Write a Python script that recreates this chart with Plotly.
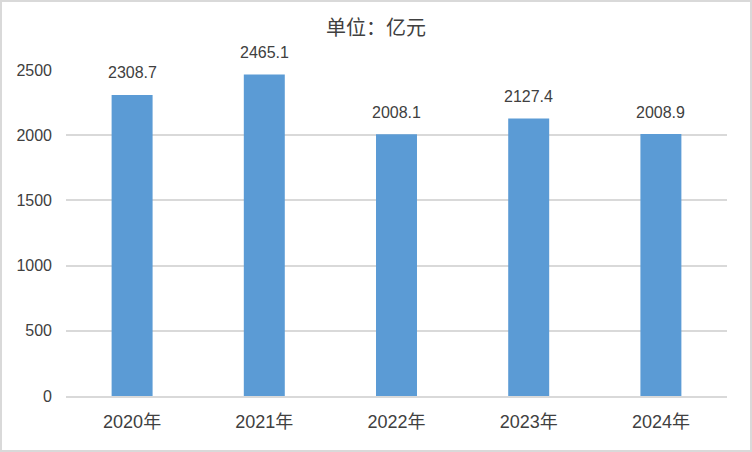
import plotly.graph_objects as go

categories = ["2020年", "2021年", "2022年", "2023年", "2024年"]
values = [2308.7, 2465.1, 2008.1, 2127.4, 2008.9]
tick_vals = [0, 500, 1000, 1500, 2000, 2500]

W, H = 752, 452
ml, mr, mt, mb = 66, 25, 70, 56
pw, ph = W - ml - mr, H - mt - mb
FONT = "Liberation Sans, Noto Sans CJK SC, sans-serif"
TXT = "#404040"

fig = go.Figure(go.Bar(
    x=categories, y=values,
    marker=dict(color="#5B9BD5", line=dict(width=0)),
    width=0.31,
    hoverinfo="x+y",
))

for c, v in zip(categories, values):
    fig.add_annotation(x=c, y=v, text=f"{v:.1f}", showarrow=False,
                       yanchor="middle", yshift=22,
                       font=dict(family=FONT, size=16, color=TXT))

fig.update_layout(
    width=W, height=H,
    margin=dict(l=ml, r=mr, t=mt, b=mb),
    paper_bgcolor="white", plot_bgcolor="white",
    font=dict(family=FONT, color=TXT, size=16),
    title=dict(text="单位：亿元", x=0.5, xanchor="center", y=1 - 28 / H, yanchor="middle",
               font=dict(family="Noto Sans CJK SC, sans-serif", size=20, color=TXT)),
    showlegend=False,
)
fig.update_xaxes(showgrid=False, showline=True, linecolor="#d9d9d9", linewidth=2,
                 ticks="", ticklabelstandoff=8, tickfont=dict(family=FONT, size=18, color=TXT))
fig.update_yaxes(range=[0, 2500], tickvals=tick_vals, showgrid=True, gridcolor="#d9d9d9",
                 gridwidth=1.5, zeroline=False, showline=False, ticks="", ticklabelstandoff=13,
                 tickfont=dict(family=FONT, size=16, color=TXT))

fig.add_shape(type="rect", xref="paper", yref="paper",
              x0=-(ml - 1) / pw, x1=1 + (mr - 1) / pw,
              y0=-(mb - 1) / ph, y1=1 + (mt - 1) / ph,
              line=dict(color="#d9d9d9", width=2), fillcolor="rgba(0,0,0,0)", layer="below")

fig.write_html("out.html", config={"displayModeBar": False},
               post_script="document.body.style.margin='0';document.body.style.overflow='hidden';")
